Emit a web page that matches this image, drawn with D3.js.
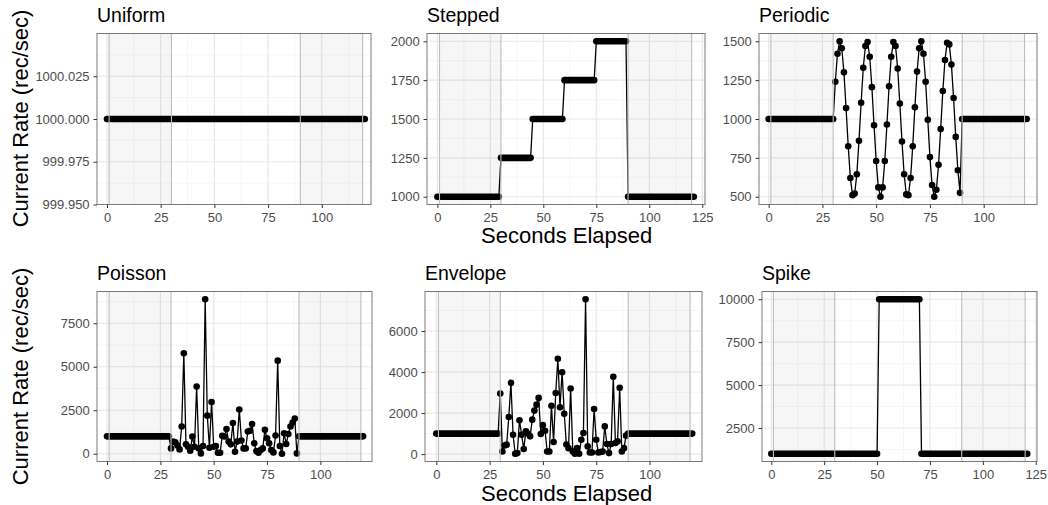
<!DOCTYPE html>
<html>
<head>
<meta charset="utf-8">
<script src="https://cdn.jsdelivr.net/npm/d3@7"></script>
<style>
  body { margin: 0; background: #fff; }
  svg { display: block; font-family: "Liberation Sans", Arial, Helvetica, sans-serif; }
</style>
</head>
<body>
<svg id="chart" width="1048" height="505"></svg>
<script>
// ---- data ----
var panelNames = ["Uniform", "Stepped", "Periodic", "Poisson", "Envelope", "Spike"];

// constant stretches, one reading per second: [first second, last second, rate]
var uniformRuns = [[0, 120, 1000]];
var steppedRuns = [[0, 29, 1000], [30, 44, 1250], [45, 59, 1500], [60, 74, 1750], [75, 89, 2000], [90, 121, 1000]];
var periodicRuns = [[0, 30, 1000], [90, 120, 1000]];
var poissonRuns = [[0, 29, 1000], [90, 120, 1000]];
var envelopeRuns = [[0, 29, 1000], [90, 120, 1000]];
var spikeRuns = [[0, 50, 1000], [51, 70, 10000], [71, 121, 1000]];

// varying stretches, one reading per second starting at *From
var periodicFrom = 31;
var periodicValues = [1240, 1420, 1500, 1455, 1300, 1070, 825, 620, 510, 520,
  645, 860, 1105, 1330, 1470, 1495, 1400, 1205, 960, 730,
  560, 500, 560, 730, 965, 1210, 1400, 1495, 1470, 1325,
  1100, 855, 645, 515, 510, 620, 825, 1075, 1305, 1455,
  1500, 1420, 1240, 995, 755, 575, 500, 545, 705, 935,
  1180, 1380, 1490, 1480, 1350, 1135, 885, 670, 525];
var poissonFrom = 30;
var poissonValues = [310, 700, 660, 470, 250, 1570, 5780, 540, 400, 175,
  990, 400, 3860, 310, 20, 450, 8880, 2190, 350, 2970,
  400, 450, 60, 60, 1030, 990, 1420, 700, 540, 1765,
  120, 700, 2540, 760, 310, 310, 1280, 1320, 1710, 600,
  155, 60, 210, 310, 1380, 890, 600, 210, 80, 1050,
  5350, 450, 0, 1180, 560, 1140, 1570, 1800, 2020, 20];
var envelopeFrom = 30;
var envelopeValues = [2950, 130, 420, 460, 1810, 3470, 945, 16, 50, 1650,
  945, 245, 1110, 995, 865, 1680, 2120, 2410, 2740, 980,
  1420, 1140, 130, 130, 2360, 590, 2980, 4650, 2280, 3990,
  1970, 470, 290, 3195, 130, 16, 290, 16, 700, 1030,
  7550, 375, 80, 80, 2200, 700, 80, 100, 130, 1350,
  490, 50, 490, 3765, 540, 620, 3230, 130, 290, 900];

// shaded warm-up / cool-down windows (seconds)
var shadeStart = [1, 90];
var shadeEnd = [30, 119];
var shadeEndLate = [30, 120];

// tick labels
var xTicks = [0, 25, 50, 75, 100, 125];
var uniformTicks = [999.950, 999.975, 1000.000, 1000.025];
var steppedTicks = [1000, 1250, 1500, 1750, 2000];
var periodicTicks = [500, 750, 1000, 1250, 1500];
var poissonTicks = [0, 2500, 5000, 7500];
var envelopeTicks = [0, 2000, 4000, 6000];
var spikeTicks = [2500, 5000, 7500, 10000];

// ---- layout ----
var W = 1048, H = 505;
var R = 3.3;
var panels = [
  { runs: uniformRuns, from: 0, values: [], ticks: uniformTicks, fmt: d3.format(".3f"), shadeEnd: shadeEnd,
    box: [97, 33.5, 371, 204.5], xDom: [-4.65, 122.9] },
  { runs: steppedRuns, from: 0, values: [], ticks: steppedTicks, fmt: d3.format("d"), shadeEnd: shadeEndLate,
    box: [427, 33.5, 705, 204.5], xDom: [-4.9, 126.3] },
  { runs: periodicRuns, from: periodicFrom, values: periodicValues, ticks: periodicTicks, fmt: d3.format("d"), shadeEnd: shadeEnd,
    box: [759, 33.5, 1037, 204.5], xDom: [-4.5, 124.8] },
  { runs: poissonRuns, from: poissonFrom, values: poissonValues, ticks: poissonTicks, fmt: d3.format("d"), shadeEnd: shadeEnd,
    box: [97, 291.5, 372, 461.5], xDom: [-4.7, 124.2] },
  { runs: envelopeRuns, from: envelopeFrom, values: envelopeValues, ticks: envelopeTicks, fmt: d3.format("d"), shadeEnd: shadeEnd,
    box: [425, 291.5, 702, 461.5], xDom: [-5.3, 124.6] },
  { runs: spikeRuns, from: 0, values: [], ticks: spikeTicks, fmt: d3.format("d"), shadeEnd: shadeEndLate,
    box: [762, 291.5, 1037, 461.5], xDom: [-4.4, 125.6] }
];

var svg = d3.select("#chart");
svg.append("rect").attr("width", W).attr("height", H).attr("fill", "#fff");

function minorsOf(ticks, dom) {
  var step = ticks[1] - ticks[0];
  var out = [];
  for (var i = -1; i < ticks.length; i++) {
    var m = ticks[0] + step * (i + 0.5);
    if (m >= dom[0] && m <= dom[1]) out.push(m);
  }
  return out;
}

panels.forEach(function(p, idx) {
  var b = p.box;
  var pts = p.values.map(function(v, i) { return [p.from + i, v]; });
  var runEnds = [];
  p.runs.forEach(function(r) { runEnds.push([r[0], r[2]]); runEnds.push([r[1], r[2]]); });
  var all = runEnds.concat(pts).sort(function(a, c) { return a[0] - c[0]; });

  var ext = d3.extent(all, function(d) { return d[1]; });
  var pad = ext[1] - ext[0] > 0 ? (ext[1] - ext[0]) * 0.05 : 0.05;
  var y = d3.scaleLinear().domain([ext[0] - pad, ext[1] + pad]).range([b[3], b[1]]);
  var x = d3.scaleLinear().domain(p.xDom).range([b[0], b[2]]);

  var g = svg.append("g");
  var clipId = "clip" + idx;
  g.append("clipPath").attr("id", clipId).append("rect")
    .attr("x", b[0]).attr("y", b[1]).attr("width", b[2] - b[0]).attr("height", b[3] - b[1]);

  var inner = g.append("g").attr("clip-path", "url(#" + clipId + ")");
  var xT = xTicks.filter(function(t) { return t >= p.xDom[0] && t <= p.xDom[1]; });

  // grid
  inner.selectAll(".gxm").data(minorsOf(xTicks, p.xDom)).enter().append("line")
    .attr("x1", x).attr("x2", x).attr("y1", b[1]).attr("y2", b[3])
    .attr("stroke", "#f0f0f0").attr("stroke-width", 0.6);
  inner.selectAll(".gym").data(minorsOf(p.ticks, y.domain())).enter().append("line")
    .attr("y1", y).attr("y2", y).attr("x1", b[0]).attr("x2", b[2])
    .attr("stroke", "#f0f0f0").attr("stroke-width", 0.6);
  inner.selectAll(".gx").data(xT).enter().append("line")
    .attr("x1", x).attr("x2", x).attr("y1", b[1]).attr("y2", b[3])
    .attr("stroke", "#e8e8e8").attr("stroke-width", 1.2);
  inner.selectAll(".gy").data(p.ticks).enter().append("line")
    .attr("y1", y).attr("y2", y).attr("x1", b[0]).attr("x2", b[2])
    .attr("stroke", "#e8e8e8").attr("stroke-width", 1.2);

  // connecting line
  inner.append("path").datum(all)
    .attr("d", d3.line().x(function(d) { return x(d[0]); }).y(function(d) { return y(d[1]); }))
    .attr("fill", "none").attr("stroke", "#000").attr("stroke-width", 1.3);

  // constant stretches: overlapping points form a solid band
  inner.selectAll(".run").data(p.runs).enter().append("line")
    .attr("x1", function(r) { return x(r[0]); }).attr("x2", function(r) { return x(r[1]); })
    .attr("y1", function(r) { return y(r[2]); }).attr("y2", function(r) { return y(r[2]); })
    .attr("stroke", "#000").attr("stroke-width", 2 * R).attr("stroke-linecap", "round");

  inner.selectAll(".pt").data(pts).enter().append("circle")
    .attr("cx", function(d) { return x(d[0]); }).attr("cy", function(d) { return y(d[1]); })
    .attr("r", R).attr("fill", "#000");

  // shaded windows on top
  inner.selectAll(".shade").data(shadeStart).enter().append("rect")
    .attr("x", function(s) { return x(s); })
    .attr("width", function(s, i) { return x(p.shadeEnd[i]) - x(s); })
    .attr("y", b[1] - 2).attr("height", b[3] - b[1] + 4)
    .attr("fill", "#000").attr("fill-opacity", 0.035)
    .attr("stroke", "#bdbdbd").attr("stroke-width", 1.1);

  // border
  g.append("rect").attr("x", b[0]).attr("y", b[1]).attr("width", b[2] - b[0]).attr("height", b[3] - b[1])
    .attr("fill", "none").attr("stroke", "#7a7a7a").attr("stroke-width", 1);

  // axes
  var ax = g.append("g").attr("transform", "translate(0," + b[3] + ")")
    .call(d3.axisBottom(x).tickValues(xT).tickFormat(d3.format("d")).tickSize(3.5).tickPadding(4.8));
  var ay = g.append("g").attr("transform", "translate(" + b[0] + ",0)")
    .call(d3.axisLeft(y).tickValues(p.ticks).tickFormat(p.fmt).tickSize(3.5).tickPadding(3.9));
  [ax, ay].forEach(function(a) {
    a.select(".domain").remove();
    a.selectAll("line").attr("stroke", "#333");
    a.selectAll("text").attr("fill", "#4d4d4d").style("font-size", "13px")
      .style("font-family", '"Liberation Sans", Arial, sans-serif');
  });

  g.append("text").attr("x", b[0]).attr("y", b[1] - 11.5)
    .style("font-size", "19.5px").attr("fill", "#000").text(panelNames[idx]);
});

// axis titles
[243, 501].forEach(function(yy) {
  svg.append("text").attr("x", 566.7).attr("y", yy).attr("text-anchor", "middle")
    .style("font-size", "22px").attr("fill", "#000").text("Seconds Elapsed");
});
[118.5, 376.5].forEach(function(cy) {
  svg.append("text").attr("transform", "translate(28," + cy + ") rotate(-90)")
    .attr("text-anchor", "middle").style("font-size", "22px").attr("fill", "#000")
    .text("Current Rate (rec/sec)");
});
</script>
</body>
</html>
